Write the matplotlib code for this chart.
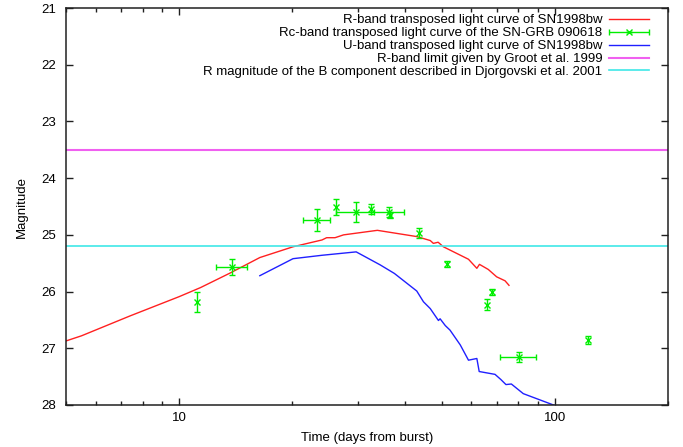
import numpy as np
import matplotlib
matplotlib.use("Agg")
import matplotlib.pyplot as plt
from matplotlib.legend_handler import HandlerErrorbar
from matplotlib.ticker import LogLocator, NullFormatter

plt.rcParams['font.family'] = ['Liberation Sans', 'DejaVu Sans']
FS = 9.5

# SN1998bw R-band light curve, transposed (days, mag)
r_days = [4.9, 5.5, 7.4, 10.0, 11.4, 13.7, 16.4, 20.1, 24.0, 24.7, 26.0, 27.4,
          33.7, 42.9, 46.6, 47.5, 48.9, 50.5, 58.9, 62.0, 63.0, 66.5, 70.0,
          73.7, 75.5]
r_mag = [26.89, 26.78, 26.43, 26.09, 25.93, 25.67, 25.40, 25.21, 25.09, 25.05,
         25.05, 25.00, 24.92, 25.03, 25.10, 25.15, 25.13, 25.21, 25.43, 25.59,
         25.52, 25.61, 25.74, 25.81, 25.89]

# SN1998bw U-band light curve, transposed
u_days = [16.4, 20.1, 24.0, 29.6, 34.3, 37.4, 42.9, 44.7, 46.6, 49.0, 49.5,
          51.1, 52.6, 56.0, 58.9, 62.0, 62.9, 69.3, 71.8, 74.1, 76.6, 82.4,
          101.0]
u_mag = [25.72, 25.42, 25.36, 25.30, 25.53, 25.68, 25.99, 26.18, 26.30, 26.51,
         26.48, 26.60, 26.68, 26.94, 27.21, 27.18, 27.41, 27.46, 27.55, 27.64,
         27.63, 27.80, 28.02]

# SN-GRB 090618 Rc-band photometry (nan = no time error)
grb_days = [11.15, 13.87, 23.3, 26.2, 29.6, 32.4, 36.1, 36.5, 43.5, 51.6,
            67.9, 65.9, 80.3, 122.8]
grb_days_err = [np.nan, 1.3, 1.9, np.nan, 3.5, np.nan, 3.6, np.nan, np.nan,
                np.nan, np.nan, np.nan, 8.8, np.nan]
grb_mag = [26.18, 25.57, 24.74, 24.505, 24.60, 24.545, 24.60, 24.65, 24.97,
           25.52, 26.01, 26.23, 27.155, 26.855]
grb_mag_err = [0.18, 0.145, 0.19, 0.145, 0.18, 0.085, 0.09, 0.05, 0.085, 0.055,
               0.055, 0.10, 0.095, 0.075]

groot_limit = 23.5
djorgovski_b = 25.2

fig = plt.figure(figsize=(6.83, 4.47), dpi=100)
ax = fig.add_axes([0.0966, 0.094, 0.8814, 0.888])

h_r, = ax.plot(r_days, r_mag, color='#ff2020', lw=1.0,
               label='R-band transposed light curve of SN1998bw')
h_grb = ax.errorbar(grb_days, grb_mag, xerr=grb_days_err, yerr=grb_mag_err,
                    fmt='x', color='#00ee00', ms=4.5, mew=1.0, elinewidth=1.0,
                    capsize=2.3, capthick=1.0,
                    label='Rc-band transposed light curve of the SN-GRB 090618')
h_u, = ax.plot(u_days, u_mag, color='#2020ff', lw=1.0,
               label='U-band transposed light curve of SN1998bw')
h_groot = ax.axhline(groot_limit, color='#f060f0', lw=1.5,
                     label='R-band limit given by Groot et al. 1999')
h_dj = ax.axhline(djorgovski_b, color='#40e8e8', lw=1.2,
                  label='R magnitude of the B component described in Djorgovski et al. 2001')

ax.set_xscale('log')
ax.set_xlim(5, 200)
ax.set_ylim(28, 21)
ax.set_yticks(range(21, 29))
ax.set_xticks([10, 100], ['10', '100'])
ax.xaxis.set_minor_locator(LogLocator(base=10, subs=np.arange(2, 10)))
ax.xaxis.set_minor_formatter(NullFormatter())

ax.tick_params(which='both', direction='in', top=True, right=True,
               labelsize=FS, color='#202020')
ax.tick_params(which='major', length=5, width=1)
ax.tick_params(which='minor', length=3, width=1)
ax.tick_params(axis='y', pad=7)
ax.tick_params(axis='x', pad=5)
for s in ax.spines.values():
    s.set_linewidth(1.1)
    s.set_color('#202020')

ax.set_xlabel('Time (days from burst)', fontsize=FS, labelpad=6)
ax.set_ylabel('Magnitude', fontsize=FS, labelpad=10)

handles = [h_r, h_grb, h_u, h_groot, h_dj]
ax.legend(handles, [h.get_label() for h in handles],
          loc='upper right', bbox_to_anchor=(0.9684, 0.9844),
          frameon=False, markerfirst=False, fontsize=FS,
          handlelength=3.0, handletextpad=0.54, labelspacing=0.05,
          borderpad=0, borderaxespad=0, numpoints=1,
          handler_map={type(h_grb): HandlerErrorbar(xerr_size=1.5, yerr_size=0)})

fig.savefig('out.png', dpi=100)
